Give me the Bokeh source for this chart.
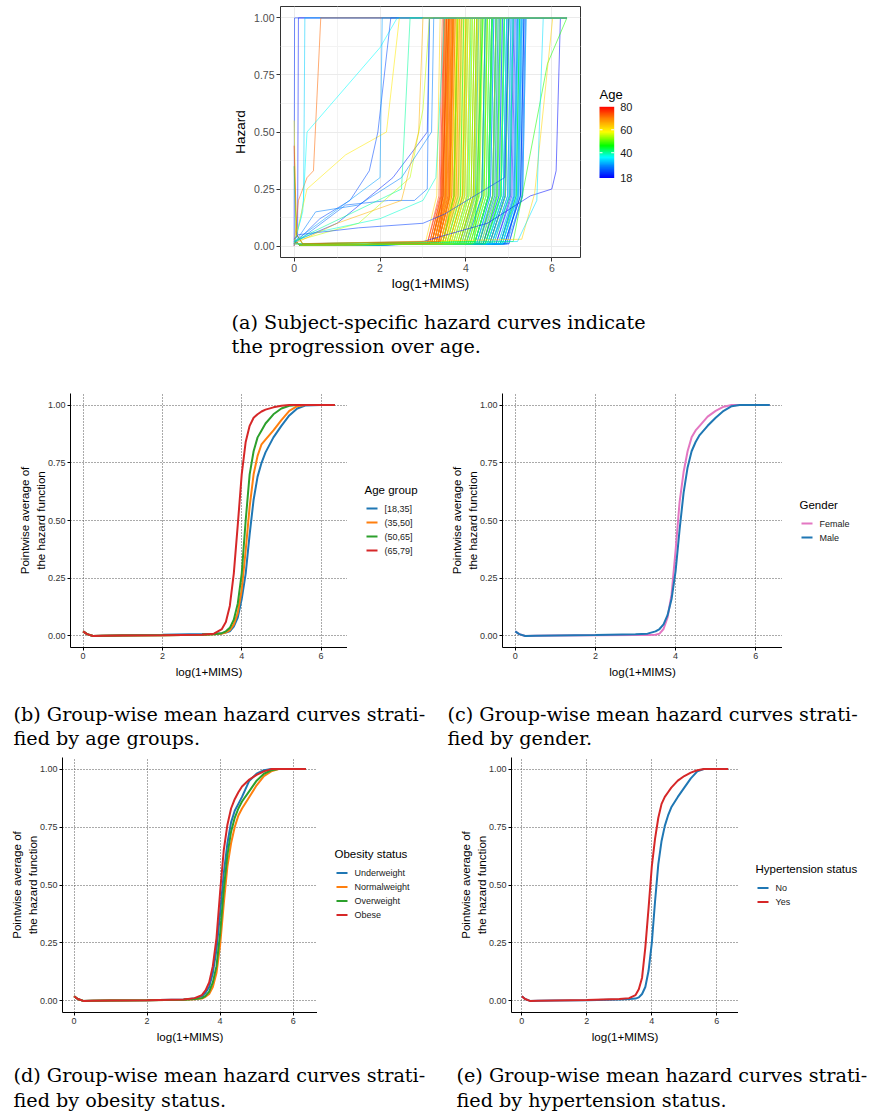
import numpy as np
from bokeh.core.properties import value
from bokeh.embed import file_html
from bokeh.layouts import row
from bokeh.models import (ColumnDataSource, FixedTicker, LinearAxis,
                          LinearColorMapper, NumeralTickFormatter, Range1d)
from bokeh.plotting import figure
from bokeh.resources import INLINE
from bokeh.transform import linear_cmap

SANS = "Liberation Sans"
SERIF = "DejaVu Serif"

# ---------------------------------------------------------------- data
X_END = 6.35
X_TICKS = [0, 2, 4, 6]
Y_TICKS = [0.0, 0.25, 0.5, 0.75, 1.0]
AGE_TICKS = [18, 40, 60, 80]
AGE_LOW, AGE_HIGH = 18, 80

# colour stops of the age gradient (age -> colour)
AGE_STOPS = [18, 28, 36, 46, 58, 70, 80]
AGE_STOP_COLORS = ["#0000FF", "#0080FF", "#00FFFF", "#00FF00", "#FFFF00", "#FF8000", "#FF0000"]

# subject-specific curves: age, where the hazard starts lifting, where it reaches 1
subj_age = [18, 19, 20, 21, 22, 23, 24, 25, 25, 26, 27, 28, 28, 29, 30, 30,
            31, 32, 32, 33, 34, 35, 35, 36, 37, 37, 38, 38, 39, 39, 40, 40,
            41, 41, 42, 42, 43, 44, 44, 45, 45, 46, 46, 47, 47, 48, 48, 49, 49, 50,
            51, 51, 52, 53, 53, 54, 55, 55, 56, 56, 57, 57, 58, 58, 59, 59, 60, 60,
            61, 61, 62, 62, 63, 63, 64, 65, 65, 66, 66, 67, 67, 68, 68, 69, 69, 70,
            71, 72, 72, 73, 74, 74, 75, 76, 76, 77, 78, 78, 79, 80,
            18, 20, 22, 24, 26, 27, 29, 31, 33, 34, 36, 38, 39, 41, 43, 44, 46, 47, 49, 50,
            52, 53, 54, 55, 57, 58, 59, 60, 62, 63, 64, 65, 66, 67, 68, 69, 70, 71, 73, 75,
            77, 79, 19, 23, 27, 35, 42, 48, 56, 61, 64, 68, 72, 76, 30, 37, 45, 52, 58, 66]
subj_lift = [4.5, 4.95, 4.2, 4.7, 4.4, 5.0, 4.6, 4.0, 4.8, 4.45, 4.9, 4.6, 4.3, 4.85, 4.55, 4.9,
             3.9, 4.95, 4.25, 4.55, 3.7, 4.85, 4.4, 4.1, 4.75, 4.5, 4.25, 4.9, 4.0, 4.6, 4.2, 4.8,
             3.75, 4.45, 3.55, 4.2, 4.65, 3.95, 3.65, 4.3, 4.8, 3.85, 3.45, 4.1, 4.55, 4.05, 4.4, 3.8, 4.15, 3.6,
             3.5, 4.2, 3.2, 3.85, 4.55, 3.45, 4.0, 3.55, 4.3, 3.7, 3.35, 4.1, 3.45, 3.9, 3.65, 4.4, 3.6, 3.8,
             3.25, 3.7, 3.05, 3.5, 4.1, 3.3, 3.55, 3.2, 3.95, 3.35, 3.15, 3.8, 3.4, 3.3, 3.6, 3.4, 3.5, 3.35,
             3.25, 3.2, 3.3, 3.4, 3.1, 3.3, 3.25, 3.45, 3.3, 3.15, 3.35, 3.2, 3.3, 3.35,
             4.7, 4.3, 4.85, 4.55, 5.0, 4.25, 4.75, 4.45, 4.6, 3.95, 4.8, 4.2, 4.5, 4.05, 3.7, 4.4, 4.2, 3.85, 4.45, 3.95,
             3.6, 4.15, 3.75, 3.45, 3.9, 3.6, 4.05, 3.4, 3.55, 3.65, 3.3, 3.45, 3.85, 3.2, 3.45, 3.25, 3.15, 3.3, 3.2, 3.35,
             3.25, 3.1, 4.9, 4.8, 4.35, 4.5, 4.3, 4.45, 4.2, 3.9, 3.4, 3.35, 3.2, 3.25, 4.65, 4.85, 4.0, 4.35, 3.75, 3.5]
subj_top = [4.95, 5.3, 4.6, 5.15, 4.85, 5.38, 5.05, 4.45, 5.2, 4.9, 5.35, 5.1, 4.75, 5.25, 5.0, 5.32,
            4.3, 5.4, 4.65, 5.0, 4.1, 5.3, 4.8, 4.55, 5.2, 4.9, 4.7, 5.35, 4.45, 5.1, 4.6, 5.25,
            4.15, 4.9, 3.95, 4.6, 5.1, 4.35, 4.05, 4.7, 5.25, 4.25, 3.8, 4.5, 5.0, 4.45, 4.8, 4.2, 4.55, 4.0,
            3.9, 4.6, 3.55, 4.25, 5.0, 3.8, 4.4, 3.95, 4.7, 4.1, 3.7, 4.5, 3.85, 4.3, 4.05, 4.8, 4.0, 4.2,
            3.6, 4.1, 3.4, 3.85, 4.5, 3.65, 3.95, 3.55, 4.35, 3.72, 3.5, 4.2, 3.8, 3.62, 4.0, 3.75, 3.9, 3.7,
            3.6, 3.52, 3.68, 3.75, 3.45, 3.62, 3.58, 3.8, 3.66, 3.5, 3.72, 3.55, 3.64, 3.7,
            5.12, 4.7, 5.28, 4.98, 5.4, 4.65, 5.18, 4.85, 5.05, 4.35, 5.22, 4.62, 4.95, 4.48, 4.12, 4.82, 4.62, 4.28, 4.9, 4.38,
            4.02, 4.55, 4.15, 3.82, 4.32, 3.98, 4.45, 3.75, 3.92, 4.05, 3.68, 3.82, 4.25, 3.58, 3.85, 3.62, 3.52, 3.66, 3.54, 3.7,
            3.6, 3.48, 5.35, 5.22, 4.78, 4.95, 4.72, 4.88, 4.6, 4.28, 3.78, 3.7, 3.56, 3.6, 5.08, 5.28, 4.38, 4.75, 4.15, 3.88]

# irregular subjects, given by their own knots
odd_age = [22, 20, 33, 72, 36, 60, 24, 21, 19, 47, 62, 34, 26, 55, 58, 45, 75, 23, 38, 28, 30, 40, 65]
odd_x = [
    [0, 0.01, 6.35],
    [0, 0.08, 0.1, 6.35],
    [0, 0.15, 0.22, 0.25, 6.35],
    [0, 0.1, 0.3, 0.45, 0.62, 6.35],
    [0, 0.2, 0.3, 2.0, 2.4, 6.35],
    [0, 0.3, 1.2, 2.15, 2.45, 6.35],
    [0, 0.6, 1.3, 1.75, 1.95, 2.25, 6.35],
    [0, 1.0, 2.3, 2.9, 3.1, 3.15, 6.35],
    [0, 3.0, 4.5, 5.5, 6.0, 6.1, 6.2, 6.35],
    [0, 5.1, 5.35, 5.9, 6.35],
    [0, 5.3, 5.6, 6.02, 6.35],
    [0, 5.2, 5.65, 5.8, 6.35],
    [0, 1.2, 2.2, 2.8, 3.1, 3.15, 6.35],
    [0, 1.5, 2.7, 3.0, 3.15, 6.35],
    [0, 0.05, 0.2, 3.6, 3.8, 6.35],
    [0, 0.05, 0.2, 4.2, 4.4, 6.35],
    [0, 0.06, 0.2, 3.4, 3.6, 6.35],
    [0, 0.1, 1.5, 3.0, 3.5, 4.9, 5.0, 6.35],
    [0, 0.5, 2.0, 3.0, 3.3, 3.5, 6.35],
    [0, 0.5, 1.5, 2.5, 3.2, 3.25, 6.35],
    [0, 2.0, 2.05, 6.35],
    [0, 0.3, 2.5, 2.7, 6.35],
    [0, 1.0, 2.5, 2.9, 3.0, 6.35],
]
odd_y = [
    [0.0, 1.0, 1.0],
    [0.02, 0.05, 1.0, 1.0],
    [0.01, 0.12, 0.2, 1.0, 1.0],
    [0.0, 0.2, 0.3, 0.33, 1.0, 1.0],
    [0.01, 0.15, 0.5, 0.87, 1.0, 1.0],
    [0.01, 0.25, 0.4, 0.5, 1.0, 1.0],
    [0.01, 0.12, 0.2, 0.33, 0.5, 1.0, 1.0],
    [0.02, 0.1, 0.3, 0.45, 0.5, 1.0, 1.0],
    [0.01, 0.02, 0.1, 0.22, 0.25, 0.33, 1.0, 1.0],
    [0.01, 0.02, 0.26, 0.8, 1.0],
    [0.01, 0.03, 0.23, 1.0, 1.0],
    [0.01, 0.02, 0.2, 1.0, 1.0],
    [0.01, 0.18, 0.2, 0.2, 0.25, 1.0, 1.0],
    [0.02, 0.1, 0.3, 0.6, 1.0, 1.0],
    [0.55, 0.05, 0.01, 0.02, 1.0, 1.0],
    [0.35, 0.05, 0.01, 0.02, 1.0, 1.0],
    [0.44, 0.05, 0.01, 0.02, 1.0, 1.0],
    [0.03, 0.05, 0.08, 0.1, 0.14, 0.3, 1.0, 1.0],
    [0.02, 0.06, 0.12, 0.2, 0.3, 1.0, 1.0],
    [0.01, 0.15, 0.18, 0.3, 0.5, 1.0, 1.0],
    [0.02, 0.3, 1.0, 1.0],
    [0.02, 0.05, 0.25, 1.0, 1.0],
    [0.01, 0.1, 0.2, 0.5, 1.0, 1.0],
]

# group-wise mean hazard curves on a common grid
grid_x = [0, 0.1, 0.25, 0.5, 1, 2, 3, 3.3, 3.5, 3.6, 3.7, 3.8, 3.9, 4.0, 4.1, 4.2,
          4.3, 4.4, 4.5, 4.6, 4.8, 5.0, 5.2, 5.4, 5.6, 6.0, 6.35]

age_groups = ["[18,35]", "(35,50]", "(50,65]", "(65,79]"]
age_means = [
    [0.02, 0.008, 0.0, 0.001, 0.003, 0.005, 0.008, 0.01, 0.012, 0.015, 0.02, 0.04, 0.08, 0.16,
     0.27, 0.44, 0.59, 0.69, 0.75, 0.795, 0.86, 0.91, 0.955, 0.985, 0.998, 1.0, 1.0],
    [0.02, 0.008, 0.0, 0.001, 0.002, 0.003, 0.005, 0.007, 0.01, 0.015, 0.025, 0.05, 0.10, 0.20,
     0.37, 0.56, 0.70, 0.78, 0.83, 0.85, 0.89, 0.935, 0.975, 0.995, 1.0, 1.0, 1.0],
    [0.02, 0.008, 0.0, 0.001, 0.002, 0.003, 0.005, 0.007, 0.012, 0.02, 0.035, 0.07, 0.14, 0.27,
     0.50, 0.70, 0.80, 0.86, 0.89, 0.92, 0.96, 0.985, 0.997, 1.0, 1.0, 1.0, 1.0],
    [0.02, 0.008, 0.0, 0.001, 0.002, 0.003, 0.005, 0.01, 0.03, 0.06, 0.13, 0.27, 0.48, 0.70,
     0.84, 0.91, 0.945, 0.96, 0.972, 0.98, 0.99, 0.997, 1.0, 1.0, 1.0, 1.0, 1.0],
]

gender_groups = ["Female", "Male"]
gender_means = [
    [0.02, 0.008, 0.0, 0.001, 0.002, 0.003, 0.004, 0.004, 0.005, 0.01, 0.03, 0.08, 0.18, 0.37,
     0.58, 0.71, 0.80, 0.86, 0.89, 0.91, 0.95, 0.975, 0.993, 1.0, 1.0, 1.0, 1.0],
    [0.02, 0.008, 0.0, 0.001, 0.002, 0.004, 0.007, 0.01, 0.02, 0.03, 0.05, 0.09, 0.16, 0.28,
     0.46, 0.62, 0.73, 0.80, 0.84, 0.87, 0.91, 0.945, 0.975, 0.995, 1.0, 1.0, 1.0],
]

obesity_groups = ["Underweight", "Normalweight", "Overweight", "Obese"]
obesity_means = [
    [0.02, 0.008, 0.0, 0.001, 0.002, 0.003, 0.006, 0.01, 0.02, 0.035, 0.06, 0.12, 0.22, 0.38,
     0.55, 0.68, 0.77, 0.82, 0.85, 0.88, 0.95, 0.98, 0.995, 1.0, 1.0, 1.0, 1.0],
    [0.02, 0.008, 0.0, 0.001, 0.002, 0.003, 0.005, 0.007, 0.01, 0.018, 0.03, 0.06, 0.12, 0.24,
     0.42, 0.58, 0.68, 0.75, 0.80, 0.83, 0.88, 0.93, 0.97, 0.99, 1.0, 1.0, 1.0],
    [0.02, 0.008, 0.0, 0.001, 0.002, 0.003, 0.005, 0.008, 0.012, 0.022, 0.04, 0.08, 0.15, 0.29,
     0.48, 0.63, 0.73, 0.79, 0.83, 0.86, 0.905, 0.95, 0.98, 0.995, 1.0, 1.0, 1.0],
    [0.02, 0.008, 0.0, 0.001, 0.002, 0.003, 0.006, 0.012, 0.025, 0.045, 0.08, 0.15, 0.27, 0.47,
     0.65, 0.76, 0.83, 0.87, 0.90, 0.925, 0.955, 0.975, 0.99, 1.0, 1.0, 1.0, 1.0],
]

hyper_groups = ["No", "Yes"]
hyper_means = [
    [0.02, 0.008, 0.0, 0.001, 0.002, 0.003, 0.006, 0.008, 0.01, 0.015, 0.03, 0.06, 0.13, 0.25,
     0.43, 0.59, 0.69, 0.755, 0.80, 0.835, 0.88, 0.92, 0.96, 0.99, 1.0, 1.0, 1.0],
    [0.02, 0.008, 0.0, 0.001, 0.002, 0.004, 0.008, 0.012, 0.025, 0.05, 0.1, 0.23, 0.40, 0.58,
     0.70, 0.79, 0.85, 0.88, 0.90, 0.92, 0.95, 0.97, 0.985, 0.995, 1.0, 1.0, 1.0],
]

BLUE, ORANGE, GREEN, RED, PINK = "#1F77B4", "#FF7F0E", "#2CA02C", "#D62728", "#E377C2"

captions = {
    "a": ["(a) Subject-specific hazard curves indicate", "the progression over age."],
    "b": ["(b) Group-wise mean hazard curves strati-", "fied by age groups."],
    "c": ["(c) Group-wise mean hazard curves strati-", "fied by gender."],
    "d": ["(d) Group-wise mean hazard curves strati-", "fied by obesity status."],
    "e": ["(e) Group-wise mean hazard curves strati-", "fied by hypertension status."],
}

X_RANGE = (-0.3175, 6.6675)
Y_RANGE = (-0.05, 1.05)
X_LABEL = "log(1+MIMS)"
MEAN_Y_LABEL = ["Pointwise average of", "the hazard function"]


def age_palette(n=256):
    stops = np.array(AGE_STOPS, float)
    cols = np.array([[int(c[i:i + 2], 16) for i in (1, 3, 5)] for c in AGE_STOP_COLORS], float)
    t = np.linspace(stops[0], stops[-1], n)
    rgb = np.stack([np.interp(t, stops, cols[:, k]) for k in range(3)], axis=1)
    return ["#%02x%02x%02x" % tuple(int(round(v)) for v in c) for c in rgb]


PALETTE = age_palette()


def bare_figure(width, height, x_range, y_range, top, bottom):
    """A figure whose frame is the whole strip between the given borders, with no axes."""
    p = figure(width=width, height=height, x_range=x_range, y_range=y_range,
               x_axis_type=None, y_axis_type=None, min_border_left=0, min_border_right=0,
               min_border_top=top, min_border_bottom=bottom,
               output_backend="svg", toolbar_location=None)
    p.grid.visible = False
    p.outline_line_color = None
    return p


# ---------------------------------------------------------------- (a) subject curves
pa = figure(width=590, height=300, x_range=Range1d(*X_RANGE), y_range=Range1d(*Y_RANGE),
            min_border_left=280, min_border_right=10, min_border_top=6, min_border_bottom=43,
            output_backend="svg", toolbar_location=None)

xs, ys, ages = [], [], []
n_main = len(subj_age)
# interleave the subjects so that no age range is drawn entirely on top
order = sorted(range(n_main), key=lambda i: (i * 37) % n_main)
for i in order:
    lo, hi = subj_lift[i], subj_top[i]
    xs.append([0.0, 0.15, lo, hi - 0.08, hi, X_END])
    ys.append([0.02, 0.004, 0.01, 0.22, 1.0, 1.0])
    ages.append(subj_age[i])
for a, ox, oy in zip(odd_age, odd_x, odd_y):
    xs.append(ox)
    ys.append(oy)
    ages.append(a)

src = ColumnDataSource(dict(xs=xs, ys=ys, age=ages))
pa.multi_line(xs="xs", ys="ys", source=src, line_width=1.0, line_alpha=0.55,
              line_color=linear_cmap("age", PALETTE, AGE_LOW, AGE_HIGH))

pa.xaxis.ticker = FixedTicker(ticks=X_TICKS, minor_ticks=[1, 3, 5])
pa.yaxis.ticker = FixedTicker(ticks=Y_TICKS, minor_ticks=[0.125, 0.375, 0.625, 0.875])
pa.yaxis.formatter = NumeralTickFormatter(format="0.00")
pa.xaxis.axis_label = X_LABEL
pa.yaxis.axis_label = "Hazard"
for ax in pa.axis:
    ax.axis_line_color = None
    ax.major_tick_line_color = "#333333"
    ax.major_tick_out = 4
    ax.major_tick_in = 0
    ax.minor_tick_line_color = None
    ax.major_label_text_font = SANS
    ax.major_label_text_font_size = "10.5px"
    ax.major_label_text_color = "#4D4D4D"
    ax.major_label_standoff = 2
    ax.axis_label_text_font = SANS
    ax.axis_label_text_font_size = "13.5px"
    ax.axis_label_text_font_style = "normal"
    ax.axis_label_text_color = "#000000"
    ax.axis_label_standoff = 3
pa.xaxis.axis_label_standoff = 1
pa.outline_line_color = "#333333"
pa.outline_line_width = 1
pa.grid.grid_line_color = "#EBEBEB"
pa.grid.minor_grid_line_color = "#F3F3F3"

# age colour bar strip: frame spans the strip, y in age units
CB_FRAME_H = 251.0                 # frame height of the top row, px
CB_BAR_TOP, CB_BAR_BOT = 100.3, 171.5   # bar ends, px below the frame top
age_per_px = (AGE_HIGH - AGE_LOW) / (CB_BAR_BOT - CB_BAR_TOP)
cb_hi = AGE_HIGH + CB_BAR_TOP * age_per_px
cb_lo = AGE_LOW - (CB_FRAME_H - CB_BAR_BOT) * age_per_px
pcb = bare_figure(285, 300, Range1d(0, 285), Range1d(cb_lo, cb_hi), 6, 43)
mapper = LinearColorMapper(palette=PALETTE, low=AGE_LOW, high=AGE_HIGH)
BAR_X0, BAR_W = 9.0, 14.7
age_column = np.linspace(AGE_LOW, AGE_HIGH, 256).reshape(-1, 1)
pcb.image(image=[age_column], x=BAR_X0, y=AGE_LOW, dw=BAR_W, dh=AGE_HIGH - AGE_LOW,
          color_mapper=mapper)
inner_ticks = AGE_TICKS[1:-1]
pcb.segment(x0=[BAR_X0] * len(inner_ticks), y0=inner_ticks,
            x1=[BAR_X0 + 3] * len(inner_ticks), y1=inner_ticks, line_color="white", line_width=1)
pcb.segment(x0=[BAR_X0 + BAR_W - 3] * len(inner_ticks), y0=inner_ticks,
            x1=[BAR_X0 + BAR_W] * len(inner_ticks), y1=inner_ticks, line_color="white",
            line_width=1)
pcb.text(x=[BAR_X0 + BAR_W + 6] * len(AGE_TICKS), y=AGE_TICKS, text=[str(t) for t in AGE_TICKS],
         text_font=value(SANS), text_font_size="11px", text_baseline="middle",
         text_color="#1A1A1A")
pcb.text(x=[BAR_X0], y=[AGE_HIGH + 12.3 * age_per_px], text=["Age"], text_font=value(SANS),
         text_font_size="13px", text_baseline="middle", text_color="#000000")


# ---------------------------------------------------------------- (b)-(e) mean curves
def style_axis(ax):
    ax.axis_line_color = "#000000"
    ax.axis_line_width = 1
    ax.major_tick_line_color = "#000000"
    ax.major_tick_out = 3
    ax.major_tick_in = 0
    ax.minor_tick_line_color = None
    ax.major_label_text_font = SANS
    ax.major_label_text_font_size = "9px"
    ax.major_label_text_color = "#333333"
    ax.major_label_standoff = 2
    ax.axis_label_text_font = SANS
    ax.axis_label_text_font_size = "11.6px"
    ax.axis_label_text_font_style = "normal"
    ax.axis_label_text_color = "#000000"
    ax.axis_label_standoff = 3


def mean_panel(width, height, left, top, bottom, curves, colors):
    p = figure(width=width, height=height, x_range=Range1d(*X_RANGE), y_range=Range1d(*Y_RANGE),
               min_border_left=left, min_border_right=0, min_border_top=top,
               min_border_bottom=bottom, output_backend="svg", toolbar_location=None)
    p.outline_line_color = None
    p.xaxis.ticker = FixedTicker(ticks=X_TICKS)
    p.yaxis.ticker = FixedTicker(ticks=Y_TICKS)
    p.yaxis.formatter = NumeralTickFormatter(format="0.00")
    p.xaxis.axis_label = X_LABEL
    for ax in p.axis:
        style_axis(ax)
    # two-line y title: inner line on the real axis, outer line on a bare axis
    p.yaxis.axis_label = MEAN_Y_LABEL[1]
    p.yaxis.axis_label_standoff = -2
    outer = LinearAxis(ticker=FixedTicker(ticks=[]), axis_label=MEAN_Y_LABEL[0])
    style_axis(outer)
    outer.axis_line_color = None
    outer.major_tick_line_color = None
    outer.axis_label_standoff = 0
    p.add_layout(outer, "left")
    p.grid.grid_line_color = "#555555"
    p.grid.grid_line_dash = "1 2"
    p.grid.grid_line_width = 1
    for ys_, col in zip(curves, colors):
        p.line(grid_x, ys_, line_color=col, line_width=2)
    return p


def legend_strip(width, height, top, bottom, frame_top_px, frame_bot_px, title, groups, colors):
    """Key of a mean-curve panel; y is measured in page pixels (downwards)."""
    p = bare_figure(width, height, Range1d(0, width), Range1d(frame_bot_px, frame_top_px),
                    top, bottom)
    centre = (frame_top_px + frame_bot_px) / 2
    n = len(groups)
    title_y = centre - (7.5 * n + 1)
    rows_y = [title_y + 19 + 14 * k for k in range(n)]
    p.segment(x0=[19] * n, y0=rows_y, x1=[30] * n, y1=rows_y, line_color=colors, line_width=2)
    p.text(x=[37] * n, y=rows_y, text=groups, text_font=value(SANS), text_font_size="9px",
           text_baseline="middle", text_color="#1A1A1A")
    p.text(x=[17], y=[title_y], text=[title], text_font=value(SANS), text_font_size="11.5px",
           text_baseline="middle", text_color="#000000")
    return p


pb = mean_panel(347, 320, 70, 23, 43, age_means, [BLUE, ORANGE, GREEN, RED])
pb_key = legend_strip(90, 320, 23, 43, 393, 647, "Age group", age_groups,
                      [BLUE, ORANGE, GREEN, RED])
pc = mean_panel(345, 320, 65, 23, 43, gender_means, [PINK, BLUE])
pc_key = legend_strip(93, 320, 23, 43, 393, 647, "Gender", gender_groups, [PINK, BLUE])
pd = mean_panel(317, 300, 62, 7, 38, obesity_means, [BLUE, ORANGE, GREEN, RED])
pd_key = legend_strip(120, 300, 7, 38, 757, 1012, "Obesity status", obesity_groups,
                      [BLUE, ORANGE, GREEN, RED])
pe = mean_panel(301, 300, 74, 7, 38, hyper_means, [BLUE, RED])
pe_key = legend_strip(137, 300, 7, 38, 757, 1012, "Hypertension status", hyper_groups,
                      [BLUE, RED])


# ---------------------------------------------------------------- captions
def caption_strip(height, xs_, ys_, texts):
    p = bare_figure(875, height, Range1d(0, 875), Range1d(height, 0), 0, 0)
    p.text(x=xs_, y=ys_, text=texts, text_font=value(SERIF), text_font_size="19.2px",
           text_baseline="middle", text_color="#000000")
    return p


cap_a = caption_strip(70, [231, 231], [22, 46], captions["a"])
cap_bc = caption_strip(60, [13, 13, 447, 447], [24, 48, 24, 48], captions["b"] + captions["c"])
cap_de = caption_strip(67, [13, 13, 456, 456], [25, 50, 25, 50], captions["d"] + captions["e"])

# each strip is its own root so that the plots' frames are not aligned across strips
roots = [row(pa, pcb), cap_a, row(pb, pb_key, pc, pc_key), cap_bc,
         row(pd, pd_key, pe, pe_key), cap_de]

with open("out.html", "w") as f:
    f.write(file_html(roots, INLINE, title="Hazard curves"))
